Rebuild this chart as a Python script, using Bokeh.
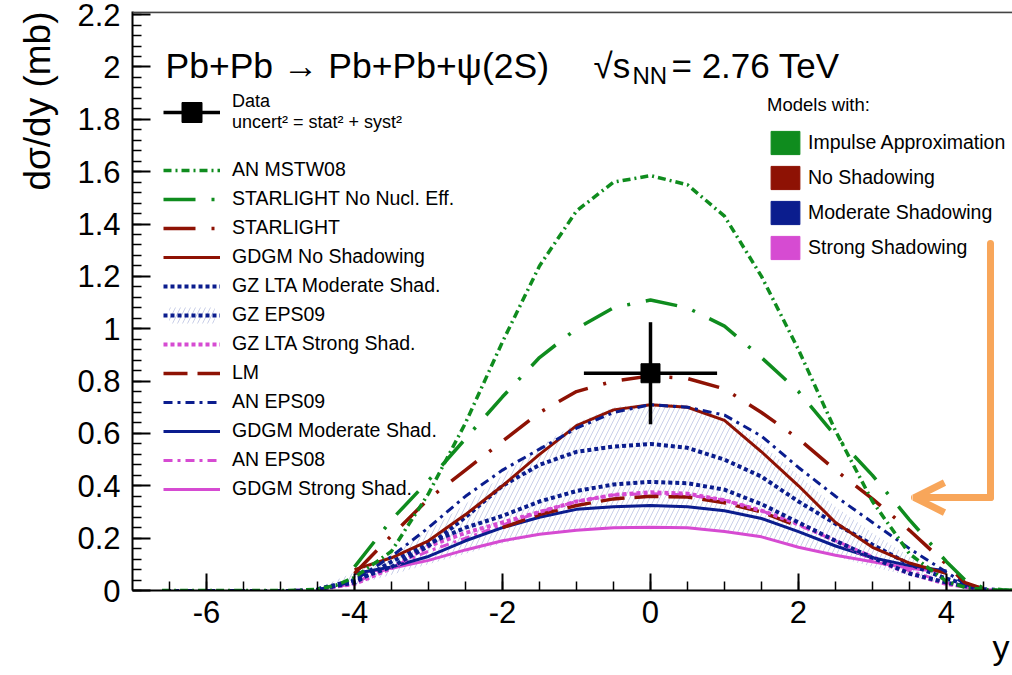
import numpy as np
from bokeh.plotting import figure
from bokeh.models import (Range1d, FixedTicker, Legend, LegendItem, Label, Span,
                          Arrow, OpenHead, Title)
from bokeh.embed import file_html
from bokeh.resources import INLINE

# ---------------- data ----------------
X_AN = [-6.6, -5.0, -4.75, -4.5, -4.25, -4.0, -3.5, -3.0, -2.5, -2.0, -1.5, -1.0, -0.5,
        0.0, 0.5, 1.0, 1.5, 2.0, 2.5, 3.0, 3.5, 4.0, 4.25, 4.5, 4.75, 5.0]
an_mstw08 = [0, 0, 0.001, 0.005, 0.02, 0.05, 0.15, 0.37, 0.64, 0.95, 1.24, 1.45, 1.56,
             1.585, 1.55, 1.43, 1.20, 0.92, 0.61, 0.34, 0.14, 0.035, 0.012, 0.004, 0.001, 0]
an_eps09 = [0, 0, 0.001, 0.005, 0.015, 0.04, 0.13, 0.24, 0.36, 0.46, 0.54, 0.62, 0.68,
            0.71, 0.70, 0.67, 0.59, 0.47, 0.36, 0.26, 0.16, 0.07, 0.025, 0.008, 0.002, 0]
an_eps08 = [0, 0, 0.001, 0.004, 0.012, 0.03, 0.09, 0.15, 0.20, 0.25, 0.30, 0.34, 0.365,
            0.37, 0.365, 0.345, 0.305, 0.25, 0.19, 0.13, 0.075, 0.03, 0.012, 0.004, 0.001, 0]

X_SL = [-4.0, -3.5, -3.0, -2.5, -2.0, -1.5, -1.0, -0.5, 0.0, 0.5, 1.0, 1.5, 2.0, 2.5,
        3.0, 3.5, 4.0, 4.25, 4.5, 4.75, 5.0]
starlight_nne = [0.09, 0.27, 0.42, 0.58, 0.74, 0.89, 1.0, 1.08, 1.11, 1.08, 1.01, 0.89,
                 0.76, 0.59, 0.44, 0.27, 0.11, 0.04, 0.01, 0.003, 0]
starlight = [0.065, 0.21, 0.35, 0.46, 0.57, 0.68, 0.76, 0.80, 0.82, 0.81, 0.77, 0.68,
             0.58, 0.46, 0.35, 0.23, 0.10, 0.03, 0.006, 0.001, 0]

X_GD = [-4.0, -3.5, -3.0, -2.5, -2.0, -1.5, -1.0, -0.5, 0.0, 0.5, 1.0, 1.5, 2.0, 2.5,
        3.0, 3.5, 4.0]
gdgm_noshad = [0.08, 0.125, 0.19, 0.29, 0.40, 0.52, 0.63, 0.69, 0.71, 0.70, 0.65, 0.53,
               0.40, 0.26, 0.165, 0.105, 0.065]
gdgm_mod = [0.065, 0.09, 0.13, 0.19, 0.24, 0.28, 0.31, 0.32, 0.325, 0.32, 0.305, 0.275,
            0.225, 0.17, 0.125, 0.095, 0.075]
gdgm_strong = [0.065, 0.085, 0.115, 0.155, 0.19, 0.215, 0.23, 0.24, 0.242, 0.24, 0.225,
               0.205, 0.165, 0.135, 0.11, 0.085, 0.07]

X_GZ = [-4.5, -4.0, -3.5, -3.0, -2.5, -2.0, -1.5, -1.0, -0.5, 0.0, 0.5, 1.0, 1.5, 2.0,
        2.5, 3.0, 3.5, 4.0, 4.5]
gz_lta_mod = [0.005, 0.04, 0.09, 0.17, 0.28, 0.40, 0.48, 0.53, 0.55, 0.56, 0.545, 0.50,
              0.435, 0.34, 0.255, 0.175, 0.10, 0.045, 0.005]
gz_eps09 = [0.005, 0.03, 0.11, 0.18, 0.24, 0.285, 0.34, 0.38, 0.405, 0.415, 0.41, 0.385,
            0.33, 0.26, 0.19, 0.125, 0.065, 0.03, 0.004]
gz_eps09_hi = [0.01, 0.07, 0.14, 0.23, 0.33, 0.44, 0.55, 0.64, 0.70, 0.715, 0.71, 0.66,
               0.56, 0.44, 0.32, 0.22, 0.13, 0.06, 0.01]
gz_eps09_lo = [0.003, 0.02, 0.06, 0.10, 0.14, 0.18, 0.21, 0.23, 0.245, 0.25, 0.245, 0.23,
               0.205, 0.17, 0.13, 0.09, 0.055, 0.02, 0.003]
gz_lta_strong = [0.004, 0.025, 0.085, 0.17, 0.22, 0.26, 0.30, 0.34, 0.365, 0.375, 0.37,
                 0.345, 0.305, 0.255, 0.19, 0.12, 0.065, 0.025, 0.004]

X_LM = [-2.0, -1.5, -1.0, -0.5, 0.0, 0.5, 1.0, 1.5, 2.0]
lm = [0.24, 0.29, 0.325, 0.35, 0.36, 0.357, 0.335, 0.30, 0.245]

data_x = [0.0]
data_y = [0.83]
data_xerr = [0.9]
data_yerr = [0.195]

X_TICKS = [-6, -4, -2, 0, 2, 4]
X_TICK_LABELS = ["-6", "-4", "-2", "0", "2", "4"]
Y_TICKS = [0, 0.2, 0.4, 0.6, 0.8, 1, 1.2, 1.4, 1.6, 1.8, 2, 2.2]
Y_TICK_LABELS = ["0", "0.2", "0.4", "0.6", "0.8", "1", "1.2", "1.4", "1.6", "1.8", "2", "2.2"]

CLASS_NAMES = ["Impulse Approximation", "No Shadowing", "Moderate Shadowing", "Strong Shadowing"]

# ---------------- style ----------------
GREEN = "#0f8c1e"
RED = "#8e1204"
BLUE = "#0b1d8e"
MAGENTA = "#d64bd2"
ORANGE = "#f8a65a"
FONT = "Liberation Sans"
CLASS_COLORS = [GREEN, RED, BLUE, MAGENTA]

X0, X1 = -7.0, 4.892
Y0, Y1 = 0.0, 2.212
FRAME_L, FRAME_B = 132, 590          # window pixels of frame left / bottom
PXX = 74.0                            # px per x unit
PXY = 261.8                           # px per y unit


def px2x(px):
    return X0 + (px - FRAME_L) / PXX


def py2y(py):
    return (FRAME_B - py) / PXY


p = figure(width=1012, height=675, x_range=Range1d(X0, X1), y_range=Range1d(Y0, Y1),
           output_backend="svg", toolbar_location=None,
           min_border_left=132, min_border_right=0, min_border_top=11, min_border_bottom=85)
p.outline_line_color = None
p.grid.visible = False
p.background_fill_color = "white"
p.border_fill_color = "white"

# axes
p.xaxis.ticker = FixedTicker(ticks=X_TICKS, minor_ticks=list(np.round(np.arange(-6.5, 4.9, 0.5), 2)))
p.xaxis.major_label_overrides = {t: l for t, l in zip(X_TICKS, X_TICK_LABELS)}
p.yaxis.ticker = FixedTicker(ticks=Y_TICKS, minor_ticks=list(np.round(np.arange(0, 2.22, 0.04), 3)))
p.yaxis.major_label_overrides = {t: l for t, l in zip(Y_TICKS, Y_TICK_LABELS)}
for ax in (p.xaxis, p.yaxis):
    ax.axis_line_width = 2
    ax.axis_line_color = "black"
    ax.major_tick_line_width = 2
    ax.minor_tick_line_width = 1.5
    ax.major_tick_out = 0
    ax.minor_tick_out = 0
    ax.minor_tick_in = 9
    ax.major_label_text_font = FONT
    ax.major_label_text_font_size = "31px"
    ax.major_label_text_color = "black"
p.xaxis.major_tick_in = 17
p.yaxis.major_tick_in = 18
p.xaxis.major_label_standoff = 10
p.yaxis.major_label_standoff = 12

# axis titles (as side panels so that they are not clipped by the frame)
p.add_layout(Title(text="d\u03c3/dy (mb)", align="right", vertical_align="top",
                   text_font=FONT, text_font_size="37px", text_font_style="normal",
                   text_color="black", standoff=30), "left")
p.add_layout(Title(text="y", align="right", text_font=FONT, text_font_size="34px",
                   text_font_style="normal", text_color="black", standoff=0, offset=3),
             "below")

p.add_layout(Span(location=2.209, dimension="width", line_color="#444444", line_width=2))

# curves
band = p.varea(x=X_GZ, y1=gz_eps09_lo, y2=gz_eps09_hi, fill_alpha=0,
               hatch_pattern="/", hatch_color="#b4bcdf", hatch_alpha=0.9,
               hatch_scale=10, hatch_weight=0.8)

r_aneps08 = p.line(X_AN, an_eps08, line_color=MAGENTA, line_width=3, line_dash="9 5 3 5")
r_gdst = p.line(X_GD, gdgm_strong, line_color=MAGENTA, line_width=3)
r_gdmod = p.line(X_GD, gdgm_mod, line_color=BLUE, line_width=3)
r_lm = p.line(X_LM, lm, line_color=RED, line_width=3.5, line_dash="24 10")
r_gzst = p.line(X_GZ, gz_lta_strong, line_color=MAGENTA, line_width=4, line_dash="4 3")
r_gzeps = p.line(X_GZ, gz_eps09, line_color=BLUE, line_width=4, line_dash="4 3")
r_gzmod = p.line(X_GZ, gz_lta_mod, line_color=BLUE, line_width=4, line_dash="4 3")
r_gdno = p.line(X_GD, gdgm_noshad, line_color=RED, line_width=3)
r_aneps09 = p.line(X_AN, an_eps09, line_color=BLUE, line_width=3, line_dash="9 5 3 5")
r_sl = p.line(X_SL, starlight, line_color=RED, line_width=3.5, line_dash="32 16 3 16")
r_slnne = p.line(X_SL, starlight_nne, line_color=GREEN, line_width=3.5, line_dash="32 16 3 16")
r_mstw = p.line(X_AN, an_mstw08, line_color=GREEN, line_width=3.5, line_dash="8 4 2 4")

# data point
dx = np.array(data_x)
dy = np.array(data_y)
ex = np.array(data_xerr)
ey = np.array(data_yerr)
seg_x = p.segment(x0=dx - ex, y0=dy, x1=dx + ex, y1=dy, line_color="black", line_width=3.5)
seg_y = p.segment(x0=dx, y0=dy - ey, x1=dx, y1=dy + ey, line_color="black", line_width=3.5)
sq = p.scatter(dx, dy, marker="square", size=19, color="black")

# left legends
common = dict(padding=0, margin=0, border_line_alpha=0, background_fill_alpha=0,
              label_text_font=FONT, label_text_color="black", click_policy="none")

leg_data = Legend(items=[LegendItem(label="Data\nuncert\u00b2 = stat\u00b2 + syst\u00b2",
                                    renderers=[seg_x, sq])],
                  location=(31, 453), glyph_width=57, glyph_height=50, label_height=50,
                  label_standoff=12, label_text_font_size="18px",
                  label_text_line_height=1.4, **common)
p.add_layout(leg_data)

model_items = [
    ("AN MSTW08", [r_mstw]),
    ("STARLIGHT No Nucl. Eff.", [r_slnne]),
    ("STARLIGHT", [r_sl]),
    ("GDGM No Shadowing", [r_gdno]),
    ("GZ LTA Moderate Shad.", [r_gzmod]),
    ("GZ EPS09", [band, r_gzeps]),
    ("GZ LTA Strong Shad.", [r_gzst]),
    ("LM", [r_lm]),
    ("AN EPS09", [r_aneps09]),
    ("GDGM Moderate Shad.", [r_gdmod]),
    ("AN EPS08", [r_aneps08]),
    ("GDGM Strong Shad.", [r_gdst]),
]
leg_models = Legend(items=[LegendItem(label=l, renderers=r) for l, r in model_items],
                    location=(31, 90), glyph_width=57, glyph_height=20, label_height=20,
                    spacing=6, label_standoff=12, label_text_font_size="19.5px", **common)
p.add_layout(leg_models)

# right legend (model classes): swatch-only renderers with no visible data
class_items = []
for name, col in zip(CLASS_NAMES, CLASS_COLORS):
    nan1 = np.array([np.nan])
    q = p.quad(left=nan1, right=nan1, top=nan1, bottom=nan1, fill_color=col,
               line_color=col, line_width=1)
    class_items.append(LegendItem(label=name, renderers=[q]))
leg_class = Legend(items=class_items, title="Models with:", location=(635, 328),
                   glyph_width=36, glyph_height=29, label_height=29, spacing=6,
                   label_standoff=5, label_text_font_size="19.5px",
                   title_text_font=FONT, title_text_font_size="18.5px",
                   title_text_font_style="normal", title_text_color="black",
                   title_standoff=12, **common)
p.add_layout(leg_class)

# title texts
p.add_layout(Label(x=px2x(165), y=py2y(65), text="Pb+Pb \u2192 Pb+Pb+\u03c8(2S)",
                   text_font=FONT, text_font_size="35.5px", text_baseline="alphabetic",
                   text_color="black"))
p.add_layout(Label(x=px2x(593), y=py2y(65), text="\u221as",
                   text_font=FONT, text_font_size="35px", text_baseline="alphabetic",
                   text_color="black"))
p.add_layout(Label(x=px2x(632), y=py2y(75), text="NN",
                   text_font=FONT, text_font_size="24px", text_baseline="alphabetic",
                   text_color="black"))
p.add_layout(Label(x=px2x(671), y=py2y(65), text="= 2.76 TeV",
                   text_font=FONT, text_font_size="35px", text_baseline="alphabetic",
                   text_color="black"))

# orange arrow
p.add_layout(Arrow(x_start=px2x(990), y_start=py2y(243), x_end=px2x(990), y_end=py2y(497),
                   end=None, line_color=ORANGE, line_width=7, line_cap="round"))
p.add_layout(Arrow(x_start=px2x(990), y_start=py2y(497), x_end=px2x(914), y_end=py2y(497),
                   end=OpenHead(size=30, line_color=ORANGE, line_width=7),
                   line_color=ORANGE, line_width=7, line_cap="round"))

open("out.html", "w").write(file_html(p, INLINE))
